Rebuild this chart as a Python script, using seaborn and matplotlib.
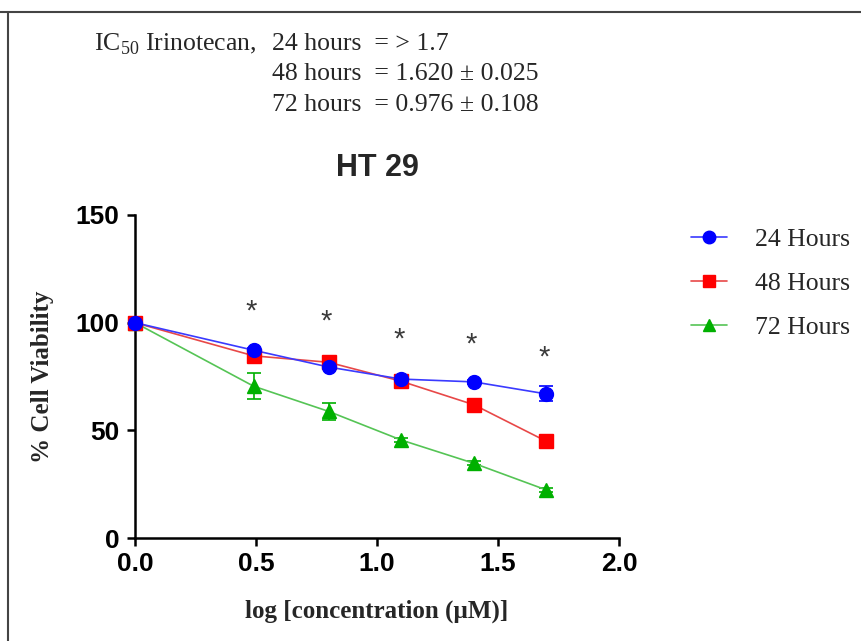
import numpy as np
import pandas as pd
import matplotlib
matplotlib.use("Agg")
import matplotlib.pyplot as plt
import seaborn as sns
from matplotlib.lines import Line2D

# ---------------- data ----------------
log_conc = [0.0, 0.49, 0.80, 1.10, 1.40, 1.70]
series_names = ["24 Hours", "48 Hours", "72 Hours"]
viab_24 = [100, 87.2, 79.4, 73.8, 72.5, 66.9]
viab_48 = [100, 84.6, 81.6, 72.8, 61.9, 44.9]
viab_72 = [100, 70.5, 58.8, 45.5, 34.7, 22.3]
se_24 = [0, 1.2, 1.0, 1.0, 1.0, 3.5]
se_48 = [0, 1.2, 1.0, 1.0, 1.0, 1.0]
se_72 = [0, 6.0, 4.0, 1.0, 1.0, 1.0]
star_x = [0.48, 0.79, 1.09, 1.39, 1.69]
star_y = [105.0, 100.5, 92.0, 90.0, 83.7]
x_ticks = [0.0, 0.5, 1.0, 1.5, 2.0]
y_ticks = [0, 50, 100, 150]
ic50_lines = ["24 hours  = > 1.7", "48 hours  = 1.620 \u00b1 0.025", "72 hours  = 0.976 \u00b1 0.108"]

sns.set_style("white")
plt.rcParams["font.family"] = ["Liberation Sans", "DejaVu Sans"]
plt.rcParams["mathtext.fontset"] = "custom"
plt.rcParams["mathtext.rm"] = "Liberation Serif"

df = pd.DataFrame({
    "x": log_conc * 3,
    "y": viab_24 + viab_48 + viab_72,
    "se": se_24 + se_48 + se_72,
    "series": np.repeat(series_names, len(log_conc)),
})

line_colors = {"24 Hours": "#3a3aff", "48 Hours": "#e84848", "72 Hours": "#55c455"}
mark_colors = {"24 Hours": "#0000ff", "48 Hours": "#ff0000", "72 Hours": "#00b000"}
markers = {"24 Hours": "o", "48 Hours": "s", "72 Hours": "^"}
msize = {"24 Hours": 10, "48 Hours": 9.5, "72 Hours": 10}

fig = plt.figure(figsize=(8.62, 6.41), dpi=100)
ax = fig.add_axes([135 / 862, 1 - 538 / 641, (619 - 135) / 862, (538 - 215) / 641])

# draw series (72 first so 24 is on top)
for name in series_names[::-1]:
    sub = df[df["series"] == name]
    ax.errorbar(sub["x"], sub["y"], yerr=sub["se"], fmt="none",
                ecolor=mark_colors[name], elinewidth=1.2, capsize=5, capthick=1.2,
                zorder=3, clip_on=False)
    sns.lineplot(data=sub, x="x", y="y", ax=ax, color=line_colors[name],
                 linewidth=1.2, errorbar=None, legend=False, zorder=4, clip_on=False)
    ax.plot(sub["x"], sub["y"], linestyle="none", marker=markers[name],
            markersize=msize[name], color=mark_colors[name], zorder=5, clip_on=False)

for sx, sy in zip(star_x, star_y):
    ax.text(sx, sy, "*", ha="center", va="center", fontsize=21, color="#3a3a3a",
            family=["Liberation Sans", "DejaVu Sans"])

ax.set_xlim(0, 2.0)
ax.set_ylim(0, 150)
ax.set_xticks(x_ticks)
ax.set_xticklabels([f"{t:.1f}" for t in x_ticks])
ax.set_yticks(y_ticks)
for side in ["top", "right"]:
    ax.spines[side].set_visible(False)
for side in ["left", "bottom"]:
    ax.spines[side].set_linewidth(1.8)
    ax.spines[side].set_color("black")
ax.tick_params(axis="both", direction="out", length=6, width=1.8, labelsize=19,
               pad=4, colors="black", left=True, bottom=True)
ax.tick_params(axis="y", pad=5)
for lab in ax.get_xticklabels() + ax.get_yticklabels():
    lab.set_fontweight("bold")

ax.set_xlabel("log [concentration (\u00b5M)]", family=["Liberation Serif", "DejaVu Serif"],
              fontweight="bold", fontsize=18, labelpad=17)
ax.set_ylabel("% Cell Viability", family=["Liberation Serif", "DejaVu Serif"],
              fontweight="bold", fontsize=18, labelpad=16)
ax.set_title("HT 29", fontsize=22, fontweight="bold", pad=28)

# legend
handles = [Line2D([0], [0], color=line_colors[n], lw=1.2, marker=markers[n],
                  markersize=msize[n] * 0.9, markerfacecolor=mark_colors[n],
                  markeredgecolor=mark_colors[n]) for n in series_names]
leg = fig.legend(handles, series_names, loc="upper left",
                 bbox_to_anchor=(668 / 862, 1 - 205 / 641), frameon=False,
                 prop={"family": ["Liberation Serif", "DejaVu Serif"], "size": 18.5},
                 handlelength=1.4, handletextpad=1.1, labelspacing=0.82)

# IC50 annotation
serif = ["Liberation Serif", "DejaVu Serif"]
fig.text(94 / 862, 1 - 44 / 641, r"IC$_{\mathrm{50}}$ Irinotecan,", fontsize=18.5,
         family=serif, va="center", ha="left")
for i, line in enumerate(ic50_lines):
    fig.text(272 / 862, 1 - (44 + 30.5 * i) / 641, line, fontsize=18.5, family=serif,
             va="center", ha="left")

# frame lines (top and left)
fig.add_artist(Line2D([0, 1], [1 - 12 / 641, 1 - 12 / 641], color="#444444", lw=1.5,
                      transform=fig.transFigure))
fig.add_artist(Line2D([8 / 862, 8 / 862], [0, 1 - 12 / 641], color="#444444", lw=1.5,
                      transform=fig.transFigure))

fig.savefig("out.png", dpi=100)
